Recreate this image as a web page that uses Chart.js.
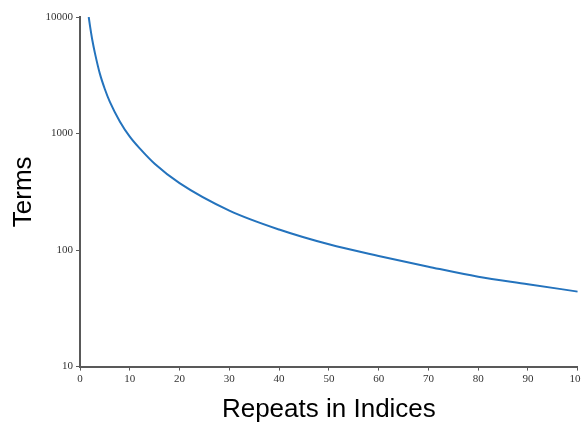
<!DOCTYPE html>
<html>
<head>
<meta charset="utf-8">
<script src="https://cdn.jsdelivr.net/npm/chart.js@4"></script>
<style>
  html, body { margin: 0; padding: 0; background: #fff; overflow: hidden; }
  #wrap { width: 581px; height: 425px; overflow: hidden; }
</style>
</head>
<body>
<div id="wrap"><canvas id="termsChart" width="588" height="425"></canvas></div>
<script>
// values
const repeats = [1.75, 2, 2.5, 3, 4, 5, 6, 8, 10, 12, 15, 20, 30, 40, 50, 60, 70, 80, 90, 100];
const terms = [10000, 8450, 6250, 4900, 3250, 2400, 1870, 1270, 940, 745, 550, 375, 218, 150, 112, 89, 72, 59, 51, 44];
const yTickValues = [10, 100, 1000, 10000];
const xTickStep = 10;

const axisColor = '#595959';
const tickFont = { family: 'Liberation Serif', size: 11 };
const titleFont = { family: 'Liberation Sans', size: 26 };

const ctx = document.getElementById('termsChart').getContext('2d');

new Chart(ctx, {
    type: 'scatter',
    data: {
        datasets: [{
            data: repeats.map((x, i) => ({ x: x, y: terms[i] })),
            showLine: true,
            borderColor: '#2473bd',
            borderWidth: 2,
            pointRadius: 0,
            cubicInterpolationMode: 'monotone'
        }]
    },
    options: {
        responsive: false,
        animation: false,
        layout: { padding: { top: 17, right: 10, left: 0, bottom: 0 } },
        plugins: {
            legend: { display: false },
            tooltip: { enabled: false }
        },
        scales: {
            x: {
                type: 'linear',
                min: 0,
                max: 100,
                ticks: {
                    stepSize: xTickStep,
                    color: '#333',
                    font: tickFont,
                    padding: 2,
                    maxRotation: 0
                },
                grid: {
                    drawOnChartArea: false,
                    drawTicks: true,
                    tickLength: 4,
                    color: axisColor
                },
                border: { color: axisColor, width: 2 },
                title: {
                    display: true,
                    text: 'Repeats in Indices',
                    color: '#000',
                    font: titleFont,
                    padding: { top: 6, bottom: 0 }
                }
            },
            y: {
                type: 'logarithmic',
                min: 10,
                max: 10000,
                afterBuildTicks: function (scale) {
                    scale.ticks = yTickValues.map(v => ({ value: v }));
                },
                afterFit: function (scale) {
                    scale.width = 80;
                },
                ticks: {
                    color: '#333',
                    font: tickFont,
                    padding: 3,
                    callback: v => String(v)
                },
                grid: {
                    drawOnChartArea: false,
                    drawTicks: true,
                    tickLength: 4,
                    color: axisColor
                },
                border: { color: axisColor, width: 2 },
                title: {
                    display: true,
                    text: 'Terms',
                    color: '#000',
                    font: titleFont,
                    padding: { top: 8, bottom: 0 }
                }
            }
        }
    }
});
</script>
</body>
</html>
